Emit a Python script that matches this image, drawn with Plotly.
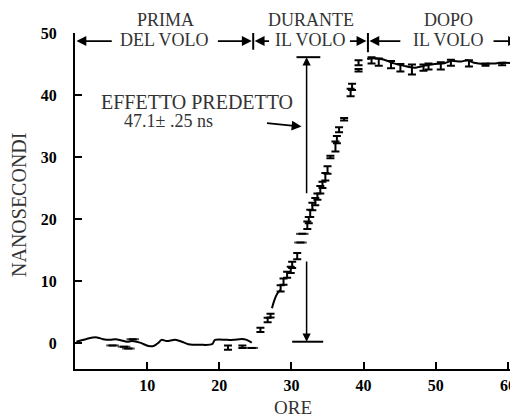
import plotly.graph_objects as go

# ---- data (hours, nanoseconds) ----
before_x = [0.2, 1.6, 3.0, 3.9, 4.9, 5.6, 6.5, 7.2, 7.9, 9.0, 10.2, 10.9, 11.6, 12.0, 12.7, 13.9,
            14.8, 15.7, 17.4, 19.0, 19.4, 21.1, 22.0, 23.1, 23.8, 24.5]
before_y = [0.2, 0.65, 0.9, 0.6, 0.5, 0.6, 0.4, 0.2, 0.3, 0.05, -0.5, -0.5, 0.05, 0.5, 0.3, 0.5,
            0.2, -0.2, -0.3, -0.2, 0.5, 0.5, 0.5, 0.65, 0.5, 0.05]

before_pts_x = [5.2, 6.8, 7.4, 8.0, 21.2, 23.2, 24.5]
before_pts_y = [-0.4, -0.6, -0.9, 0.6, -0.75, -0.6, -0.8]
before_pts_e = [0.0, 0.0, 0.0, 0.0, 0.35, 0.2, 0.0]

during_line_x = [27.3, 27.6, 28.0, 28.5]
during_line_y = [5.6, 6.8, 7.9, 8.6]

during_x = [25.7, 26.7, 27.1, 28.5, 28.9, 29.4, 29.9, 30.1, 30.8, 31.25, 31.5, 32.2, 32.4, 32.6,
            32.9, 33.3, 33.6, 34.0, 34.3, 34.7, 35.0, 35.4, 36.1, 36.3, 36.6, 37.3, 38.2, 38.4,
            39.3, 39.3]
during_y = [2.1, 3.7, 4.4, 8.8, 9.9, 11.0, 11.8, 12.6, 14.0, 16.2, 17.6, 19.0, 19.8, 20.9,
            22.0, 22.8, 23.6, 24.7, 25.5, 26.8, 27.9, 30.0, 31.7, 32.8, 34.4, 36.1, 40.4, 41.3,
            45.2, 44.0]
during_e = [0.35, 0.35, 0.3, 0.5, 0.5, 0.5, 0.5, 0.5, 0.5, 0.0, 0.0, 0.6, 0.5, 0.6,
            0.6, 0.6, 0.5, 0.6, 0.5, 0.6, 0.6, 0.2, 0.8, 0.6, 0.4, 0.2, 0.6, 0.5,
            0.4, 0.2]

after_x = [40.5, 41.0, 42.4, 43.3, 44.2, 45.6, 47.0, 48.4, 49.8, 51.2, 52.1, 53.5, 54.4, 55.3,
           56.7, 58.1, 59.5, 61.3]
after_y = [45.8, 45.9, 45.8, 45.5, 45.1, 44.7, 44.4, 44.7, 45.0, 45.1, 45.5, 45.4, 45.6, 45.2,
           45.0, 45.1, 45.2, 45.1]

after_pts_x = [41.1, 42.1, 43.8, 45.1, 46.7, 48.3, 49.0, 50.7, 52.1, 54.6, 56.9, 59.2]
after_pts_y = [45.6, 45.3, 44.9, 44.4, 44.1, 44.4, 44.6, 44.7, 45.2, 45.1, 44.9, 45.0]
after_pts_e = [0.5, 0.6, 0.6, 0.6, 0.8, 0.5, 0.5, 0.6, 0.5, 0.5, 0.2, 0.2]

x_ticks = [10, 20, 30, 40, 50, 60]
y_ticks = [0, 10, 20, 30, 40, 50]

predicted_top = 46.1
predicted_bottom = 0.2
predicted_x = 32.1
flight_start = 24.7
flight_end = 40.6

SERIF = "Liberation Serif"
TXT = "#333333"

fig = go.Figure()

line_style = dict(color="black", width=2, shape="spline", smoothing=0.8)
for lx, ly in [(before_x, before_y), (during_line_x, during_line_y), (after_x, after_y)]:
    fig.add_trace(go.Scatter(x=lx, y=ly, mode="lines", line=line_style,
                             hoverinfo="skip", showlegend=False))

def pts(x, y, e):
    sizes = [0 if v > 0 else 9 for v in e]
    return go.Scatter(
        x=x, y=y, mode="markers",
        marker=dict(symbol="line-ew", size=sizes, line=dict(color="black", width=2)),
        error_y=dict(type="data", array=e, visible=True, color="black", thickness=2, width=4),
        hoverinfo="skip", showlegend=False)

fig.add_trace(pts(before_pts_x, before_pts_y, before_pts_e))
fig.add_trace(pts(during_x, during_y, during_e))
fig.add_trace(pts(after_pts_x, after_pts_y, after_pts_e))

ann = []
def ptext(x, y, s, size=18, **kw):
    # x in data units, y in paper fraction (so text above the range stays visible)
    ann.append(dict(x=x, y=y, xref="x", yref="paper", text=s, showarrow=False,
                    xanchor="center", yanchor="middle",
                    font=dict(family=SERIF, size=size, color=TXT), **kw))

def text(x, y, s, size=18, **kw):
    ann.append(dict(x=x, y=y, xref="x", yref="y", text=s, showarrow=False,
                    xanchor="center", yanchor="middle",
                    font=dict(family=SERIF, size=size, color=TXT), **kw))

def arrow(x0, y0, x1, y1, width=1.8, head=2, size=1.1):
    ann.append(dict(x=x1, y=y1, ax=x0, ay=y0, xref="x", yref="y", axref="x", ayref="y",
                    text="", showarrow=True, arrowhead=head, arrowsize=size,
                    arrowwidth=width, arrowcolor="black", standoff=0, startstandoff=0))

top_row = (369 - 20) / 336
mid_row = (369 - 40) / 336
hy = 48.7

ptext(12.6, top_row, "PRIMA")
ptext(12.4, mid_row, "DEL VOLO")
ptext(32.7, top_row, "DURANTE")
ptext(32.6, mid_row, "IL VOLO")
ptext(51.7, top_row, "DOPO")
ptext(51.7, mid_row, "IL VOLO")

arrow(5.3, hy, 0.2, hy)
arrow(19.6, hy, 24.5, hy)
arrow(27.1, hy, 24.9, hy)
arrow(37.9, hy, 40.4, hy)
arrow(45.3, hy, 40.8, hy)
arrow(57.8, hy, 61.4, hy)

text(16.9, 38.9, "EFFETTO PREDETTO", size=20)
text(13.0, 35.8, "47.1± .25 ns", size=18)
arrow(26.4, 35.5, 31.4, 34.9)

arrow(predicted_x, 23.9, predicted_x, predicted_top, width=1.5)
arrow(predicted_x, 13.4, predicted_x, predicted_bottom, width=1.5)

ann.append(dict(x=(19 - 75) / 443, y=(369 - 205) / 336, xref="paper", yref="paper",
                text="NANOSECONDI", showarrow=False, textangle=-90,
                xanchor="center", yanchor="middle",
                font=dict(family=SERIF, size=20, color=TXT)))
ann.append(dict(x=(293 - 75) / 443, y=(369 - 407) / 336, xref="paper", yref="paper",
                text="ORE", showarrow=False, xanchor="center", yanchor="middle",
                font=dict(family=SERIF, size=19, color=TXT)))

shapes = [
    dict(type="line", xref="x", yref="y", x0=flight_start, x1=flight_start, y0=47.3, y1=50.0,
         line=dict(color="black", width=2)),
    dict(type="line", xref="x", yref="y", x0=flight_end, x1=flight_end, y0=46.9, y1=50.0,
         line=dict(color="black", width=2)),
    dict(type="line", xref="x", yref="y", x0=30.7, x1=34.0, y0=predicted_top, y1=predicted_top,
         line=dict(color="black", width=2)),
    dict(type="line", xref="x", yref="y", x0=30.1, x1=34.4, y0=predicted_bottom, y1=predicted_bottom,
         line=dict(color="black", width=2)),
]

axis_font = dict(family=SERIF, size=16, color="black", weight="bold")

# the page body adds an 8 px margin, so the figure is 8 px smaller and shifted
fig.update_layout(
    width=510, height=411,
    margin=dict(l=67, r=0, t=25, b=50),
    paper_bgcolor="white", plot_bgcolor="white",
    annotations=ann, shapes=shapes,
    xaxis=dict(range=[0, 61.4], tickvals=x_ticks, ticktext=[str(v) for v in x_ticks],
               ticks="inside", ticklen=7, tickwidth=1.5, tickcolor="black",
               showline=True, linewidth=2, linecolor="black", showgrid=False, zeroline=False,
               tickfont=axis_font, ticklabelstandoff=1),
    yaxis=dict(range=[-4.2, 50], tickvals=y_ticks, ticktext=[str(v) for v in y_ticks],
               ticks="inside", ticklen=7, tickwidth=1.5, tickcolor="black",
               showline=True, linewidth=2, linecolor="black", showgrid=False, zeroline=False,
               tickfont=axis_font, ticklabelstandoff=13),
)

fig.write_html("out.html")
